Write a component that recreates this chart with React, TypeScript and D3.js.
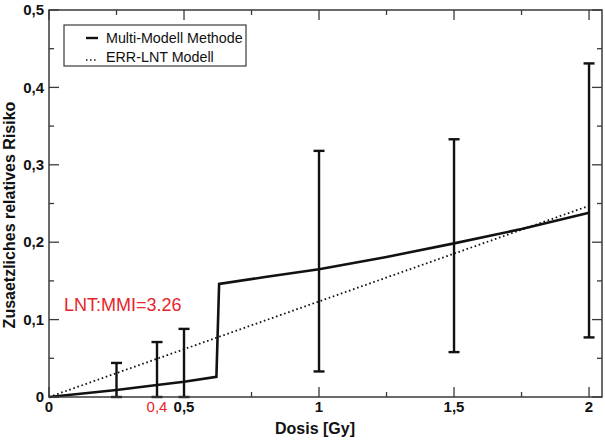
import React from "react";
import * as d3 from "d3";

const W = 605;
const H = 441;

// Multi-Modell Methode (solid)
const mmDose = [0, 0.25, 0.4, 0.5, 0.62, 0.63, 0.8, 1.0, 1.25, 1.5, 1.75, 2.0];
const mmRisk = [0, 0.009, 0.0155, 0.0198, 0.026, 0.146, 0.155, 0.165, 0.181, 0.1985, 0.217, 0.238];

// ERR-LNT Modell (dotted)
const lntDose = [0, 2.0];
const lntRisk = [0, 0.247];

// Error bars
const barDose = [0.25, 0.4, 0.5, 1.0, 1.5, 2.0];
const barLow = [0, 0, 0, 0.033, 0.058, 0.077];
const barHigh = [0.044, 0.071, 0.088, 0.318, 0.333, 0.431];

const xMajor = [0, 0.5, 1, 1.5, 2];
const xMajorLabels = ["0", "0,5", "1", "1,5", "2"];
const xMinor = [0.25, 0.75, 1.25, 1.75];
const yMajor = [0, 0.1, 0.2, 0.3, 0.4, 0.5];
const yMajorLabels = ["0", "0,1", "0,2", "0,3", "0,4", "0,5"];
const yMinor = [0.05, 0.15, 0.25, 0.35, 0.45];

const legendLabels = ["Multi-Modell Methode", "ERR-LNT Modell"];
const annotation = "LNT:MMI=3.26";
const redTickValue = 0.4;
const redTickLabel = "0,4";

export default function App() {
  const x = d3.scaleLinear().domain([0, 2.048]).range([49, 602]);
  const y = d3.scaleLinear().domain([0, 0.5]).range([397, 10]);
  const [x0, x1] = x.range();
  const [y0, y1] = y.range();

  const line = d3
    .line<[number, number]>()
    .x((d) => x(d[0]))
    .y((d) => y(d[1]));

  const mmPts = mmDose.map((d, i) => [d, mmRisk[i]] as [number, number]);
  const lntPts = lntDose.map((d, i) => [d, lntRisk[i]] as [number, number]);

  const font = "'Liberation Sans', Arial, Helvetica, sans-serif";
  const red = "#e8242a";
  const frame = "#3a3a3a";
  const capW = 5.5;
  const majL = 10;
  const minL = 5;

  return (
    <svg
      width={W}
      height={H}
      style={{ position: "absolute", left: 0, top: 0, background: "#fff" }}
      fontFamily={font}
    >
      {/* ticks */}
      <g stroke={frame} strokeWidth={1.3}>
        {xMajor.map((v) => (
          <g key={"xm" + v}>
            <line x1={x(v)} x2={x(v)} y1={y0} y2={y0 - majL} />
            <line x1={x(v)} x2={x(v)} y1={y1} y2={y1 + majL} />
          </g>
        ))}
        {xMinor.map((v) => (
          <g key={"xn" + v}>
            <line x1={x(v)} x2={x(v)} y1={y0} y2={y0 - minL} />
            <line x1={x(v)} x2={x(v)} y1={y1} y2={y1 + minL} />
          </g>
        ))}
        {yMajor.map((v) => (
          <g key={"ym" + v}>
            <line x1={x0} x2={x0 + majL} y1={y(v)} y2={y(v)} />
            <line x1={x1} x2={x1 - majL} y1={y(v)} y2={y(v)} />
          </g>
        ))}
        {yMinor.map((v) => (
          <g key={"yn" + v}>
            <line x1={x0} x2={x0 + minL} y1={y(v)} y2={y(v)} />
            <line x1={x1} x2={x1 - minL} y1={y(v)} y2={y(v)} />
          </g>
        ))}
      </g>

      {/* dotted LNT */}
      <path
        d={line(lntPts) || ""}
        fill="none"
        stroke="#111"
        strokeWidth={1.8}
        strokeDasharray="1.6,2.7"
      />

      {/* error bars */}
      <g stroke="#111" strokeWidth={2.4}>
        {barDose.map((d, i) => (
          <g key={"eb" + i}>
            <line x1={x(d)} x2={x(d)} y1={y(barLow[i])} y2={y(barHigh[i])} />
            <line x1={x(d) - capW} x2={x(d) + capW} y1={y(barLow[i])} y2={y(barLow[i])} />
            <line x1={x(d) - capW} x2={x(d) + capW} y1={y(barHigh[i])} y2={y(barHigh[i])} />
          </g>
        ))}
      </g>

      {/* solid MM line */}
      <path
        d={line(mmPts) || ""}
        fill="none"
        stroke="#111"
        strokeWidth={2.6}
        strokeLinejoin="miter"
      />

      {/* frame */}
      <rect
        x={x0}
        y={y1}
        width={x1 - x0}
        height={y0 - y1}
        fill="none"
        stroke={frame}
        strokeWidth={1.5}
      />

      {/* x tick labels */}
      {xMajor.map((v, i) => (
        <text
          key={"xl" + v}
          x={x(v)}
          y={412}
          textAnchor="middle"
          fontSize={15}
          fontWeight="bold"
          fill="#111"
        >
          {xMajorLabels[i]}
        </text>
      ))}
      <text x={x(redTickValue)} y={412} textAnchor="middle" fontSize={15} fill={red}>
        {redTickLabel}
      </text>

      {/* y tick labels */}
      {yMajor.map((v, i) => (
        <text
          key={"yl" + v}
          x={44}
          y={y(v)}
          dy="0.35em"
          textAnchor="end"
          fontSize={15}
          fontWeight="bold"
          fill="#111"
        >
          {yMajorLabels[i]}
        </text>
      ))}

      {/* axis titles */}
      <text x={315} y={434} textAnchor="middle" fontSize={16} fontWeight="bold" fill="#111">
        Dosis [Gy]
      </text>
      <text
        transform={`translate(15,${215}) rotate(-90)`}
        textAnchor="middle"
        fontSize={16}
        fontWeight="bold"
        fill="#111"
      >
        Zusaetzliches relatives Risiko
      </text>

      {/* annotation */}
      <text x={64} y={311} fontSize={18} fill={red}>
        {annotation}
      </text>

      {/* legend */}
      <rect x={64} y={25} width={182} height={41} fill="#fff" stroke={frame} strokeWidth={1.2} />
      <line x1={86} x2={98} y1={38} y2={38} stroke="#111" strokeWidth={2.4} />
      <line
        x1={86}
        x2={98}
        y1={60}
        y2={60}
        stroke="#111"
        strokeWidth={1.6}
        strokeDasharray="1.5,2.5"
      />
      <text x={106} y={43} fontSize={14.3} fill="#111">
        {legendLabels[0]}
      </text>
      <text x={106} y={62} fontSize={14.3} fill="#111">
        {legendLabels[1]}
      </text>
    </svg>
  );
}
